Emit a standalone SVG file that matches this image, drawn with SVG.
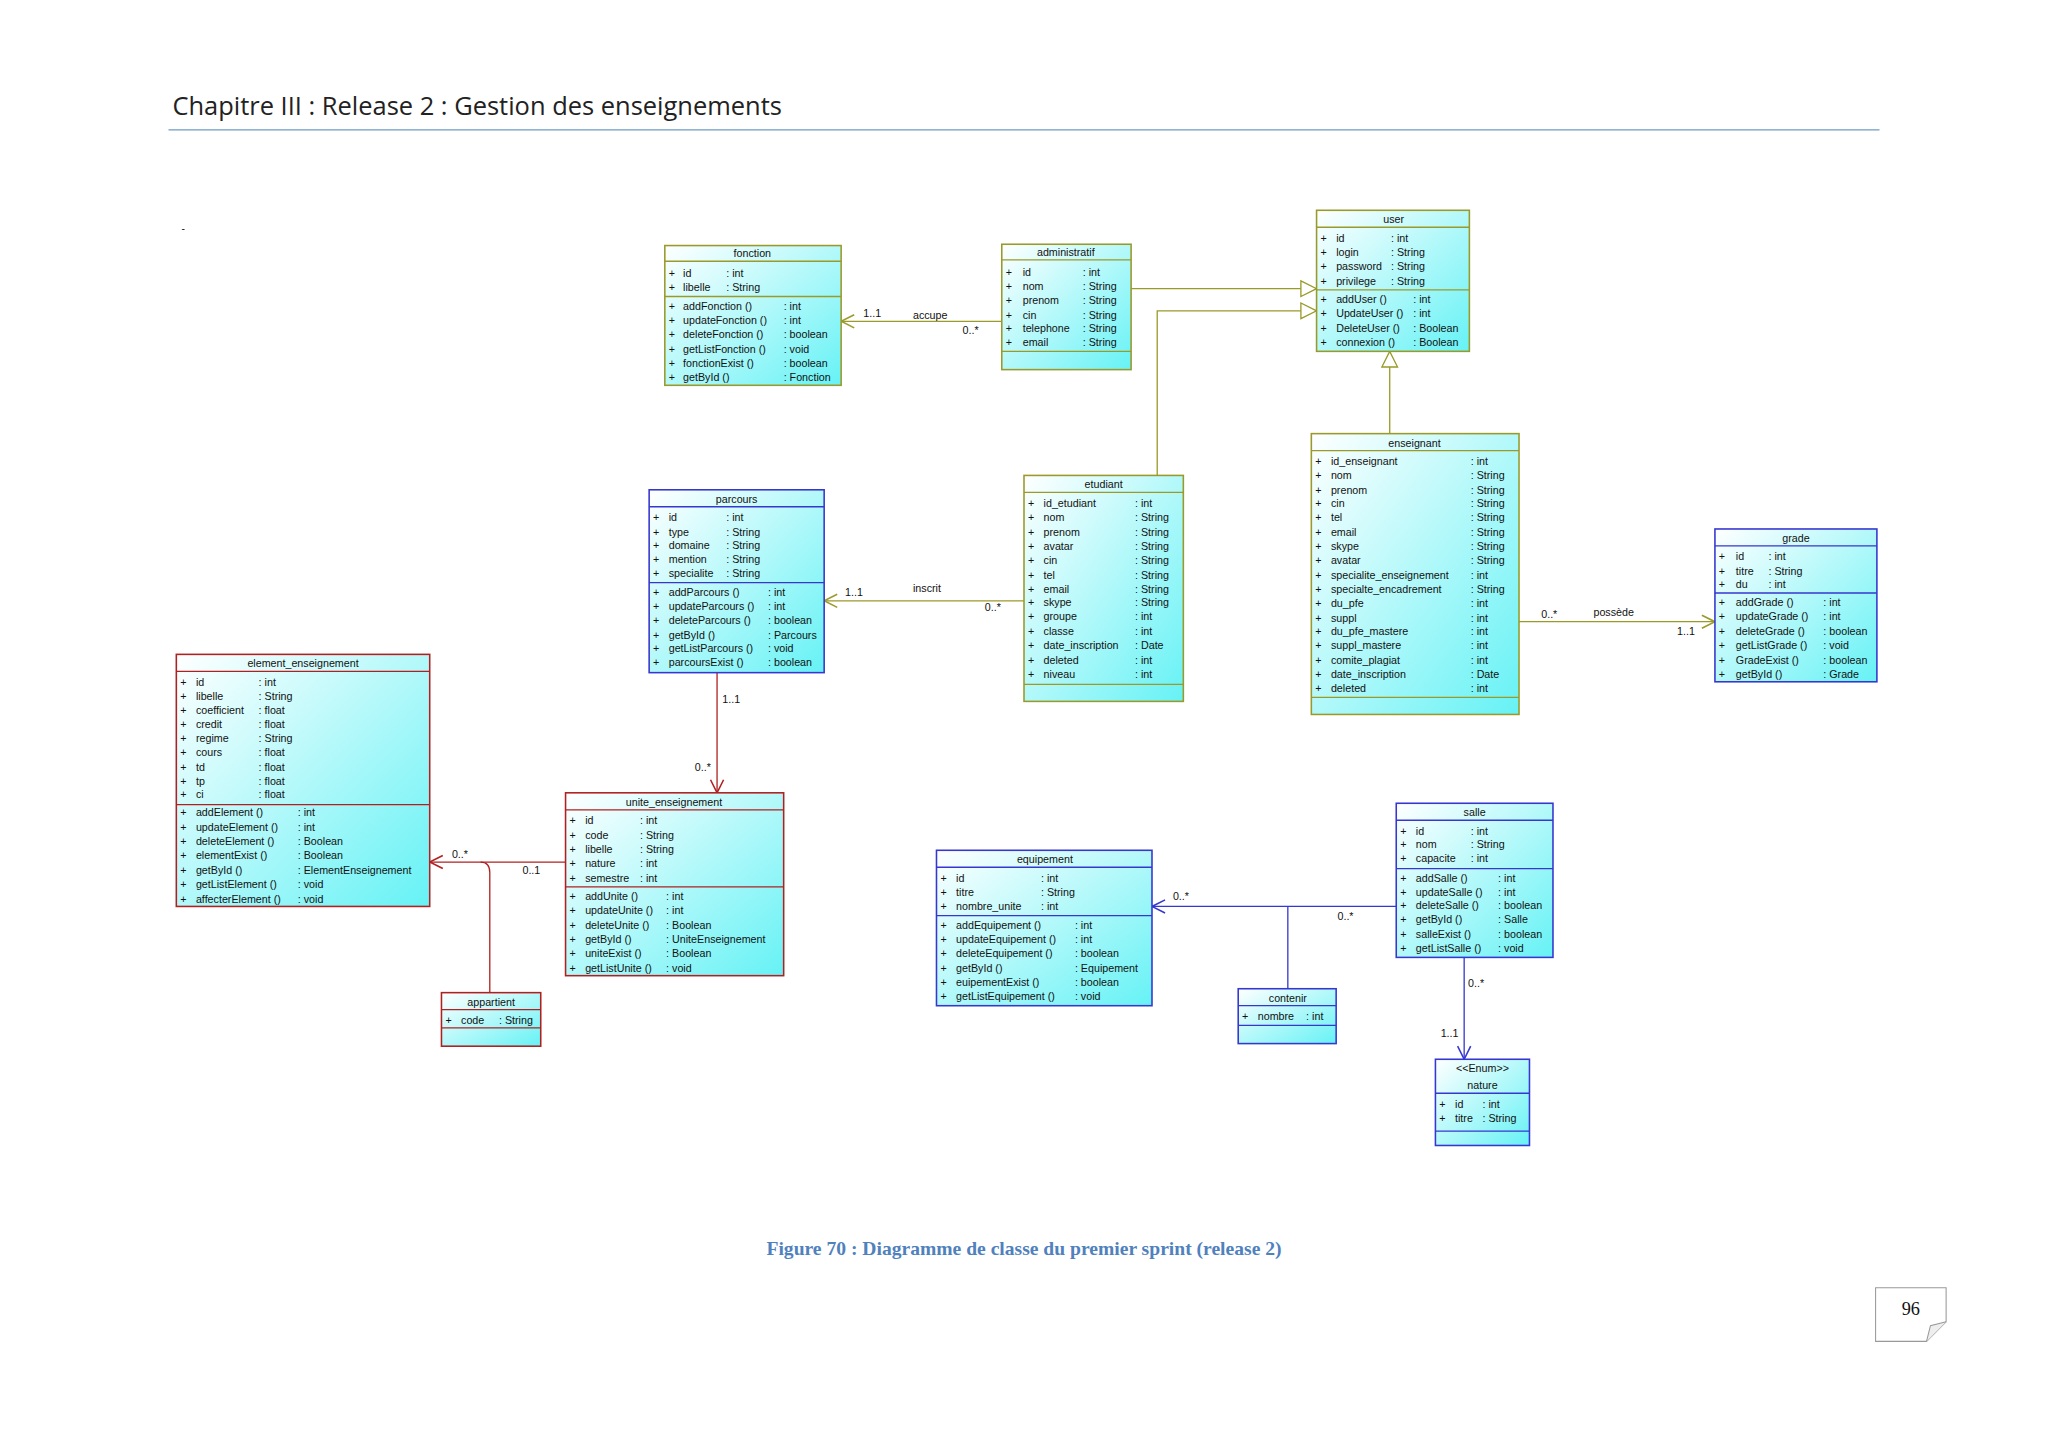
<svg xmlns="http://www.w3.org/2000/svg" width="2048" height="1448" viewBox="0 0 2048 1448">
<defs>
<linearGradient id="g" x1="0" y1="0" x2="1" y2="1"><stop offset="0" stop-color="#ffffff"/><stop offset="1" stop-color="#66f2f5"/></linearGradient>
<marker id="tri" viewBox="0 0 14 14" refX="13" refY="7" markerWidth="14" markerHeight="14" markerUnits="userSpaceOnUse" orient="auto"><path d="M1,1 L13,7 L1,13 Z" fill="#fff" stroke="#9a9a2a" stroke-width="1"/></marker>
<marker id="oa" viewBox="0 0 12 12" refX="11" refY="6" markerWidth="12" markerHeight="12" markerUnits="userSpaceOnUse" orient="auto"><path d="M1,1 L11,6 L1,11" fill="none" stroke="context-stroke" stroke-width="1.2"/></marker>
</defs>
<style>
text{font-family:"Liberation Sans",Arial,sans-serif;font-size:8.2px;fill:#111}
.t{text-anchor:middle}
.o rect,.o line{stroke:#9a9a2a}
.b rect,.b line{stroke:#3636d0}
.r rect,.r line{stroke:#b02020}
rect.c{fill:url(#g);stroke-width:1.2}
line{stroke-width:1}
.cn path{fill:none;stroke-width:1}
</style>
<rect width="2048" height="1448" fill="#fff"/>
<g transform="scale(1.30612)">
<text x="132" y="88" style="font-family:'Open Sans','Liberation Sans',sans-serif;font-size:19.5px;fill:#222">Chapitre III : Release 2 : Gestion des enseignements</text>
<line x1="129" y1="99.5" x2="1439" y2="99.5" stroke="#6f9bc0" stroke-width="1.3"/>
<text x="139" y="178" style="font-size:8px">-</text>

<g class="cn">
<path d="M866,221 H1008" stroke="#9a9a2a" marker-end="url(#tri)"/>
<path d="M886,364 V238 H1008" stroke="#9a9a2a" marker-end="url(#tri)"/>
<path d="M1064,332 V269" stroke="#9a9a2a" marker-end="url(#tri)"/>
<path d="M767,246 H644" stroke="#9a9a2a" marker-end="url(#oa)"/>
<path d="M784,460 H631" stroke="#9a9a2a" marker-end="url(#oa)"/>
<path d="M1163,476 H1313" stroke="#9a9a2a" marker-end="url(#oa)"/>
<path d="M549,515 V607" stroke="#b02020" marker-end="url(#oa)"/>
<path d="M433,660 H329" stroke="#b02020" marker-end="url(#oa)"/>
<path d="M375,760 V668 Q375,660 368,660" stroke="#b02020" stroke-width="0.7"/>
<path d="M1069,694 H882" stroke="#3636d0" marker-end="url(#oa)"/>
<path d="M986,694 V757" stroke="#3636d0" stroke-width="0.7"/>
<path d="M1121,733 V811" stroke="#3636d0" marker-end="url(#oa)"/>
<text x="661" y="243">1..1</text><text x="699" y="244">accupe</text><text x="737" y="256">0..*</text>
<text x="647" y="456">1..1</text><text x="699" y="453">inscrit</text><text x="754" y="468">0..*</text>
<text x="1180" y="473">0..*</text><text x="1220" y="472">possède</text><text x="1284" y="486">1..1</text>
<text x="553" y="538">1..1</text><text x="532" y="590">0..*</text>
<text x="346" y="657">0..*</text><text x="400" y="669">0..1</text>
<text x="898" y="689">0..*</text><text x="1024" y="704">0..*</text>
<text x="1124" y="756">0..*</text><text x="1103" y="794">1..1</text>
</g>

<g id="fonction" class="o">
<rect class="c" x="509" y="188" width="135" height="107"/>
<line x1="509" y1="200" x2="644" y2="200"/><line x1="509" y1="227" x2="644" y2="227"/>
<text class="t" x="576" y="197">fonction</text>
<text x="512" y="212">+</text><text x="523" y="212">id</text><text x="556" y="212">: int</text>
<text x="512" y="223">+</text><text x="523" y="223">libelle</text><text x="556" y="223">: String</text>
<text x="512" y="237">+</text><text x="523" y="237">addFonction ()</text><text x="600" y="237">: int</text>
<text x="512" y="248">+</text><text x="523" y="248">updateFonction ()</text><text x="600" y="248">: int</text>
<text x="512" y="259">+</text><text x="523" y="259">deleteFonction ()</text><text x="600" y="259">: boolean</text>
<text x="512" y="270">+</text><text x="523" y="270">getListFonction ()</text><text x="600" y="270">: void</text>
<text x="512" y="281">+</text><text x="523" y="281">fonctionExist ()</text><text x="600" y="281">: boolean</text>
<text x="512" y="292">+</text><text x="523" y="292">getById ()</text><text x="600" y="292">: Fonction</text>
</g>

<g id="administratif" class="o">
<rect class="c" x="767" y="187" width="99" height="96"/>
<line x1="767" y1="199" x2="866" y2="199"/><line x1="767" y1="269" x2="866" y2="269"/>
<text class="t" x="816" y="196">administratif</text>
<text x="770" y="211">+</text><text x="783" y="211">id</text><text x="829" y="211">: int</text>
<text x="770" y="222">+</text><text x="783" y="222">nom</text><text x="829" y="222">: String</text>
<text x="770" y="233">+</text><text x="783" y="233">prenom</text><text x="829" y="233">: String</text>
<text x="770" y="244">+</text><text x="783" y="244">cin</text><text x="829" y="244">: String</text>
<text x="770" y="254">+</text><text x="783" y="254">telephone</text><text x="829" y="254">: String</text>
<text x="770" y="265">+</text><text x="783" y="265">email</text><text x="829" y="265">: String</text>
</g>

<g id="user" class="o">
<rect class="c" x="1008" y="161" width="117" height="108"/>
<line x1="1008" y1="174" x2="1125" y2="174"/><line x1="1008" y1="222" x2="1125" y2="222"/>
<text class="t" x="1067" y="171">user</text>
<text x="1011" y="185">+</text><text x="1023" y="185">id</text><text x="1065" y="185">: int</text>
<text x="1011" y="196">+</text><text x="1023" y="196">login</text><text x="1065" y="196">: String</text>
<text x="1011" y="207">+</text><text x="1023" y="207">password</text><text x="1065" y="207">: String</text>
<text x="1011" y="218">+</text><text x="1023" y="218">privilege</text><text x="1065" y="218">: String</text>
<text x="1011" y="232">+</text><text x="1023" y="232">addUser ()</text><text x="1082" y="232">: int</text>
<text x="1011" y="243">+</text><text x="1023" y="243">UpdateUser ()</text><text x="1082" y="243">: int</text>
<text x="1011" y="254">+</text><text x="1023" y="254">DeleteUser ()</text><text x="1082" y="254">: Boolean</text>
<text x="1011" y="265">+</text><text x="1023" y="265">connexion ()</text><text x="1082" y="265">: Boolean</text>
</g>

<g id="enseignant" class="o">
<rect class="c" x="1004" y="332" width="159" height="215"/>
<line x1="1004" y1="345" x2="1163" y2="345"/><line x1="1004" y1="534" x2="1163" y2="534"/>
<text class="t" x="1083" y="342">enseignant</text>
<text x="1007" y="356">+</text><text x="1019" y="356">id_enseignant</text><text x="1126" y="356">: int</text>
<text x="1007" y="367">+</text><text x="1019" y="367">nom</text><text x="1126" y="367">: String</text>
<text x="1007" y="378">+</text><text x="1019" y="378">prenom</text><text x="1126" y="378">: String</text>
<text x="1007" y="388">+</text><text x="1019" y="388">cin</text><text x="1126" y="388">: String</text>
<text x="1007" y="399">+</text><text x="1019" y="399">tel</text><text x="1126" y="399">: String</text>
<text x="1007" y="410">+</text><text x="1019" y="410">email</text><text x="1126" y="410">: String</text>
<text x="1007" y="421">+</text><text x="1019" y="421">skype</text><text x="1126" y="421">: String</text>
<text x="1007" y="432">+</text><text x="1019" y="432">avatar</text><text x="1126" y="432">: String</text>
<text x="1007" y="443">+</text><text x="1019" y="443">specialite_enseignement</text><text x="1126" y="443">: int</text>
<text x="1007" y="454">+</text><text x="1019" y="454">specialte_encadrement</text><text x="1126" y="454">: String</text>
<text x="1007" y="465">+</text><text x="1019" y="465">du_pfe</text><text x="1126" y="465">: int</text>
<text x="1007" y="476">+</text><text x="1019" y="476">suppl</text><text x="1126" y="476">: int</text>
<text x="1007" y="486">+</text><text x="1019" y="486">du_pfe_mastere</text><text x="1126" y="486">: int</text>
<text x="1007" y="497">+</text><text x="1019" y="497">suppl_mastere</text><text x="1126" y="497">: int</text>
<text x="1007" y="508">+</text><text x="1019" y="508">comite_plagiat</text><text x="1126" y="508">: int</text>
<text x="1007" y="519">+</text><text x="1019" y="519">date_inscription</text><text x="1126" y="519">: Date</text>
<text x="1007" y="530">+</text><text x="1019" y="530">deleted</text><text x="1126" y="530">: int</text>
</g>

<g id="etudiant" class="o">
<rect class="c" x="784" y="364" width="122" height="173"/>
<line x1="784" y1="377" x2="906" y2="377"/><line x1="784" y1="524" x2="906" y2="524"/>
<text class="t" x="845" y="374">etudiant</text>
<text x="787" y="388">+</text><text x="799" y="388">id_etudiant</text><text x="869" y="388">: int</text>
<text x="787" y="399">+</text><text x="799" y="399">nom</text><text x="869" y="399">: String</text>
<text x="787" y="410">+</text><text x="799" y="410">prenom</text><text x="869" y="410">: String</text>
<text x="787" y="421">+</text><text x="799" y="421">avatar</text><text x="869" y="421">: String</text>
<text x="787" y="432">+</text><text x="799" y="432">cin</text><text x="869" y="432">: String</text>
<text x="787" y="443">+</text><text x="799" y="443">tel</text><text x="869" y="443">: String</text>
<text x="787" y="454">+</text><text x="799" y="454">email</text><text x="869" y="454">: String</text>
<text x="787" y="464">+</text><text x="799" y="464">skype</text><text x="869" y="464">: String</text>
<text x="787" y="475">+</text><text x="799" y="475">groupe</text><text x="869" y="475">: int</text>
<text x="787" y="486">+</text><text x="799" y="486">classe</text><text x="869" y="486">: int</text>
<text x="787" y="497">+</text><text x="799" y="497">date_inscription</text><text x="869" y="497">: Date</text>
<text x="787" y="508">+</text><text x="799" y="508">deleted</text><text x="869" y="508">: int</text>
<text x="787" y="519">+</text><text x="799" y="519">niveau</text><text x="869" y="519">: int</text>
</g>

<g id="parcours" class="b">
<rect class="c" x="497" y="375" width="134" height="140"/>
<line x1="497" y1="388" x2="631" y2="388"/><line x1="497" y1="446" x2="631" y2="446"/>
<text class="t" x="564" y="385">parcours</text>
<text x="500" y="399">+</text><text x="512" y="399">id</text><text x="556" y="399">: int</text>
<text x="500" y="410">+</text><text x="512" y="410">type</text><text x="556" y="410">: String</text>
<text x="500" y="420">+</text><text x="512" y="420">domaine</text><text x="556" y="420">: String</text>
<text x="500" y="431">+</text><text x="512" y="431">mention</text><text x="556" y="431">: String</text>
<text x="500" y="442">+</text><text x="512" y="442">specialite</text><text x="556" y="442">: String</text>
<text x="500" y="456">+</text><text x="512" y="456">addParcours ()</text><text x="588" y="456">: int</text>
<text x="500" y="467">+</text><text x="512" y="467">updateParcours ()</text><text x="588" y="467">: int</text>
<text x="500" y="478">+</text><text x="512" y="478">deleteParcours ()</text><text x="588" y="478">: boolean</text>
<text x="500" y="489">+</text><text x="512" y="489">getById ()</text><text x="588" y="489">: Parcours</text>
<text x="500" y="499">+</text><text x="512" y="499">getListParcours ()</text><text x="588" y="499">: void</text>
<text x="500" y="510">+</text><text x="512" y="510">parcoursExist ()</text><text x="588" y="510">: boolean</text>
</g>

<g id="grade" class="b">
<rect class="c" x="1313" y="405" width="124" height="117"/>
<line x1="1313" y1="418" x2="1437" y2="418"/><line x1="1313" y1="454" x2="1437" y2="454"/>
<text class="t" x="1375" y="415">grade</text>
<text x="1316" y="429">+</text><text x="1329" y="429">id</text><text x="1354" y="429">: int</text>
<text x="1316" y="440">+</text><text x="1329" y="440">titre</text><text x="1354" y="440">: String</text>
<text x="1316" y="450">+</text><text x="1329" y="450">du</text><text x="1354" y="450">: int</text>
<text x="1316" y="464">+</text><text x="1329" y="464">addGrade ()</text><text x="1396" y="464">: int</text>
<text x="1316" y="475">+</text><text x="1329" y="475">updateGrade ()</text><text x="1396" y="475">: int</text>
<text x="1316" y="486">+</text><text x="1329" y="486">deleteGrade ()</text><text x="1396" y="486">: boolean</text>
<text x="1316" y="497">+</text><text x="1329" y="497">getListGrade ()</text><text x="1396" y="497">: void</text>
<text x="1316" y="508">+</text><text x="1329" y="508">GradeExist ()</text><text x="1396" y="508">: boolean</text>
<text x="1316" y="519">+</text><text x="1329" y="519">getById ()</text><text x="1396" y="519">: Grade</text>
</g>

<g id="element_enseignement" class="r">
<rect class="c" x="135" y="501" width="194" height="193"/>
<line x1="135" y1="514" x2="329" y2="514"/><line x1="135" y1="616" x2="329" y2="616"/>
<text class="t" x="232" y="511">element_enseignement</text>
<text x="138" y="525">+</text><text x="150" y="525">id</text><text x="198" y="525">: int</text>
<text x="138" y="536">+</text><text x="150" y="536">libelle</text><text x="198" y="536">: String</text>
<text x="138" y="547">+</text><text x="150" y="547">coefficient</text><text x="198" y="547">: float</text>
<text x="138" y="557">+</text><text x="150" y="557">credit</text><text x="198" y="557">: float</text>
<text x="138" y="568">+</text><text x="150" y="568">regime</text><text x="198" y="568">: String</text>
<text x="138" y="579">+</text><text x="150" y="579">cours</text><text x="198" y="579">: float</text>
<text x="138" y="590">+</text><text x="150" y="590">td</text><text x="198" y="590">: float</text>
<text x="138" y="601">+</text><text x="150" y="601">tp</text><text x="198" y="601">: float</text>
<text x="138" y="611">+</text><text x="150" y="611">ci</text><text x="198" y="611">: float</text>
<text x="138" y="625">+</text><text x="150" y="625">addElement ()</text><text x="228" y="625">: int</text>
<text x="138" y="636">+</text><text x="150" y="636">updateElement ()</text><text x="228" y="636">: int</text>
<text x="138" y="647">+</text><text x="150" y="647">deleteElement ()</text><text x="228" y="647">: Boolean</text>
<text x="138" y="658">+</text><text x="150" y="658">elementExist ()</text><text x="228" y="658">: Boolean</text>
<text x="138" y="669">+</text><text x="150" y="669">getById ()</text><text x="228" y="669">: ElementEnseignement</text>
<text x="138" y="680">+</text><text x="150" y="680">getListElement ()</text><text x="228" y="680">: void</text>
<text x="138" y="691">+</text><text x="150" y="691">affecterElement ()</text><text x="228" y="691">: void</text>
</g>

<g id="unite_enseignement" class="r">
<rect class="c" x="433" y="607" width="167" height="140"/>
<line x1="433" y1="620" x2="600" y2="620"/><line x1="433" y1="679" x2="600" y2="679"/>
<text class="t" x="516" y="617">unite_enseignement</text>
<text x="436" y="631">+</text><text x="448" y="631">id</text><text x="490" y="631">: int</text>
<text x="436" y="642">+</text><text x="448" y="642">code</text><text x="490" y="642">: String</text>
<text x="436" y="653">+</text><text x="448" y="653">libelle</text><text x="490" y="653">: String</text>
<text x="436" y="664">+</text><text x="448" y="664">nature</text><text x="490" y="664">: int</text>
<text x="436" y="675">+</text><text x="448" y="675">semestre</text><text x="490" y="675">: int</text>
<text x="436" y="689">+</text><text x="448" y="689">addUnite ()</text><text x="510" y="689">: int</text>
<text x="436" y="700">+</text><text x="448" y="700">updateUnite ()</text><text x="510" y="700">: int</text>
<text x="436" y="711">+</text><text x="448" y="711">deleteUnite ()</text><text x="510" y="711">: Boolean</text>
<text x="436" y="722">+</text><text x="448" y="722">getById ()</text><text x="510" y="722">: UniteEnseignement</text>
<text x="436" y="733">+</text><text x="448" y="733">uniteExist ()</text><text x="510" y="733">: Boolean</text>
<text x="436" y="744">+</text><text x="448" y="744">getListUnite ()</text><text x="510" y="744">: void</text>
</g>

<g id="appartient" class="r">
<rect class="c" x="338" y="760" width="76" height="41"/>
<line x1="338" y1="773" x2="414" y2="773"/><line x1="338" y1="787" x2="414" y2="787"/>
<text class="t" x="376" y="770">appartient</text>
<text x="341" y="784">+</text><text x="353" y="784">code</text><text x="382" y="784">: String</text>
</g>

<g id="equipement" class="b">
<rect class="c" x="717" y="651" width="165" height="119"/>
<line x1="717" y1="664" x2="882" y2="664"/><line x1="717" y1="701" x2="882" y2="701"/>
<text class="t" x="800" y="661">equipement</text>
<text x="720" y="675">+</text><text x="732" y="675">id</text><text x="797" y="675">: int</text>
<text x="720" y="686">+</text><text x="732" y="686">titre</text><text x="797" y="686">: String</text>
<text x="720" y="697">+</text><text x="732" y="697">nombre_unite</text><text x="797" y="697">: int</text>
<text x="720" y="711">+</text><text x="732" y="711">addEquipement ()</text><text x="823" y="711">: int</text>
<text x="720" y="722">+</text><text x="732" y="722">updateEquipement ()</text><text x="823" y="722">: int</text>
<text x="720" y="733">+</text><text x="732" y="733">deleteEquipement ()</text><text x="823" y="733">: boolean</text>
<text x="720" y="744">+</text><text x="732" y="744">getById ()</text><text x="823" y="744">: Equipement</text>
<text x="720" y="755">+</text><text x="732" y="755">euipementExist ()</text><text x="823" y="755">: boolean</text>
<text x="720" y="766">+</text><text x="732" y="766">getListEquipement ()</text><text x="823" y="766">: void</text>
</g>

<g id="salle" class="b">
<rect class="c" x="1069" y="615" width="120" height="118"/>
<line x1="1069" y1="628" x2="1189" y2="628"/><line x1="1069" y1="665" x2="1189" y2="665"/>
<text class="t" x="1129" y="625">salle</text>
<text x="1072" y="639">+</text><text x="1084" y="639">id</text><text x="1126" y="639">: int</text>
<text x="1072" y="649">+</text><text x="1084" y="649">nom</text><text x="1126" y="649">: String</text>
<text x="1072" y="660">+</text><text x="1084" y="660">capacite</text><text x="1126" y="660">: int</text>
<text x="1072" y="675">+</text><text x="1084" y="675">addSalle ()</text><text x="1147" y="675">: int</text>
<text x="1072" y="686">+</text><text x="1084" y="686">updateSalle ()</text><text x="1147" y="686">: int</text>
<text x="1072" y="696">+</text><text x="1084" y="696">deleteSalle ()</text><text x="1147" y="696">: boolean</text>
<text x="1072" y="707">+</text><text x="1084" y="707">getById ()</text><text x="1147" y="707">: Salle</text>
<text x="1072" y="718">+</text><text x="1084" y="718">salleExist ()</text><text x="1147" y="718">: boolean</text>
<text x="1072" y="729">+</text><text x="1084" y="729">getListSalle ()</text><text x="1147" y="729">: void</text>
</g>

<g id="contenir" class="b">
<rect class="c" x="948" y="757" width="75" height="42"/>
<line x1="948" y1="770" x2="1023" y2="770"/><line x1="948" y1="785" x2="1023" y2="785"/>
<text class="t" x="986" y="767">contenir</text>
<text x="951" y="781">+</text><text x="963" y="781">nombre</text><text x="1000" y="781">: int</text>
</g>

<g id="nature" class="b">
<rect class="c" x="1099" y="811" width="72" height="66"/>
<line x1="1099" y1="837" x2="1171" y2="837"/><line x1="1099" y1="866" x2="1171" y2="866"/>
<text class="t" x="1135" y="821">&lt;&lt;Enum&gt;&gt;</text>
<text class="t" x="1135" y="834">nature</text>
<text x="1102" y="848">+</text><text x="1114" y="848">id</text><text x="1135" y="848">: int</text>
<text x="1102" y="859">+</text><text x="1114" y="859">titre</text><text x="1135" y="859">: String</text>
</g>

<text x="784" y="961" text-anchor="middle" style="font-family:'Liberation Serif',serif;font-weight:bold;font-size:15px;fill:#4f81bd">Figure 70 : Diagramme de classe du premier sprint (release 2)</text>
<path d="M1436,986 H1490 V1012 L1475,1027 H1436 Z" fill="#fff" stroke="#999" stroke-width="0.8"/>
<path d="M1475,1027 L1478,1015 L1490,1012" fill="#eee" stroke="#999" stroke-width="0.8"/>
<text x="1463" y="1007" text-anchor="middle" style="font-family:'Liberation Serif',serif;font-size:14px">96</text>
</g>
</svg>
